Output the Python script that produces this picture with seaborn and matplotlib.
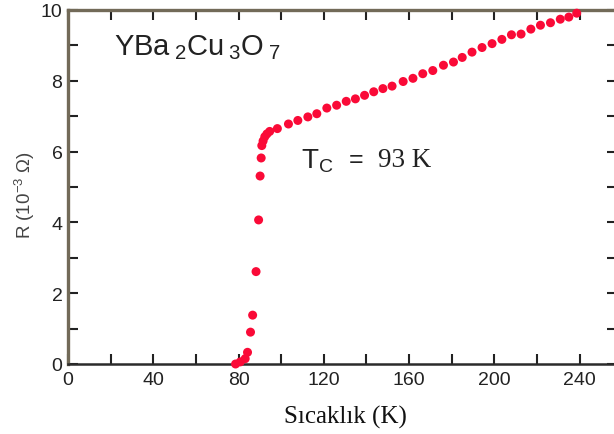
import matplotlib
matplotlib.use("Agg")
import matplotlib.pyplot as plt
import seaborn as sns
import pandas as pd
from matplotlib.ticker import MultipleLocator, FuncFormatter

temperature_K = [78.6, 80.8, 83.1, 84.2, 85.6, 86.6, 88.2, 89.4, 90.1, 90.6, 90.9, 91.5,
                 92.3, 93.3, 94.6, 98.2, 103.4, 107.8, 112.5, 116.7, 121.4, 126.0, 130.5, 134.8,
                 139.1, 143.4, 147.7, 152.0, 157.2, 161.8, 166.4, 171.1, 176.1, 180.8, 184.9, 189.5,
                 194.2, 198.9, 203.5, 208.0, 212.5, 217.1, 221.6, 226.3, 230.9, 234.9, 238.6]
resistance_mOhm = [0.0, 0.06, 0.15, 0.33, 0.9, 1.38, 2.61, 4.07, 5.31, 5.82, 6.17, 6.3,
                   6.42, 6.5, 6.57, 6.65, 6.78, 6.88, 6.98, 7.07, 7.23, 7.31, 7.42, 7.49,
                   7.59, 7.69, 7.78, 7.85, 7.98, 8.07, 8.2, 8.29, 8.44, 8.53, 8.66, 8.81,
                   8.94, 9.05, 9.17, 9.3, 9.32, 9.46, 9.57, 9.64, 9.74, 9.8, 9.91]
x_tick_labels = [0, 40, 80, 120, 160, 200, 240]
y_tick_labels = [0, 2, 4, 6, 8, 10]

df = pd.DataFrame({"T": temperature_K, "R": resistance_mOhm})

sns.set_style("ticks")
plt.rcParams["font.family"] = ["Liberation Sans", "DejaVu Sans"]
plt.rcParams["mathtext.fontset"] = "custom"
plt.rcParams["mathtext.rm"] = "Liberation Sans"

fig = plt.figure(figsize=(6.14, 4.35), dpi=100)
W, H = 614, 435
left, right, bottom, top = 68, 617, 365, 11
ax = fig.add_axes([left / W, 1 - bottom / H, (right - left) / W, (bottom - top) / H])

sns.scatterplot(data=df, x="T", y="R", ax=ax, color="#fa0a37", s=42,
                edgecolor="none", linewidth=0, zorder=3, clip_on=False)

ax.set_xlim(0, 257.5)
ax.set_ylim(0, 10)

ax.xaxis.set_major_locator(MultipleLocator(20))
ax.yaxis.set_major_locator(MultipleLocator(1))
ax.xaxis.set_major_formatter(FuncFormatter(lambda v, p: f"{int(round(v))}" if int(round(v)) in x_tick_labels else ""))
ax.yaxis.set_major_formatter(FuncFormatter(lambda v, p: f"{int(round(v))}" if int(round(v)) in y_tick_labels else ""))

ax.tick_params(axis="both", which="major", direction="in", length=7, width=1.5,
               top=True, right=True, labelsize=14, colors="#222222")
ax.tick_params(axis="x", pad=5)
ax.tick_params(axis="y", pad=4)

for side in ["left", "top"]:
    ax.spines[side].set_color("#726a58")
    ax.spines[side].set_linewidth(2.4)
ax.spines["bottom"].set_color("#2b2b2b")
ax.spines["bottom"].set_linewidth(1.8)
ax.spines["right"].set_color("#2b2b2b")
ax.spines["right"].set_linewidth(1.5)
for s in ax.spines.values():
    s.set_visible(True)

ax.set_xlabel("Sıcaklık (K)", family=["Liberation Serif", "DejaVu Serif"], fontsize=18, color="#111111")
ax.xaxis.set_label_coords(0.505, -0.115)
ax.set_ylabel(r"R (10$^{-3}$ Ω)", fontsize=13.5, color="#444444")
ax.yaxis.set_label_coords(-0.056, 0.48)

ax.text(21.5, 8.75, r"YBa$\,_{\mathregular{2}}$Cu$\,_{\mathregular{3}}$O$\,_{\mathregular{7}}$",
        fontsize=21, color="#222222", va="baseline", ha="left")
ax.text(109.5, 5.57, r"T$_{\mathregular{C}}$", fontsize=20, color="#222222", va="baseline", ha="left")
ax.text(131.5, 5.6, "=", fontsize=18, color="#222222", va="baseline", ha="left")
ax.text(145.5, 5.6, "93 K", fontsize=19.5, color="#222222", va="baseline", ha="left",
        family=["Liberation Serif", "DejaVu Serif"])

fig.savefig("out.png", dpi=100, facecolor="white")
